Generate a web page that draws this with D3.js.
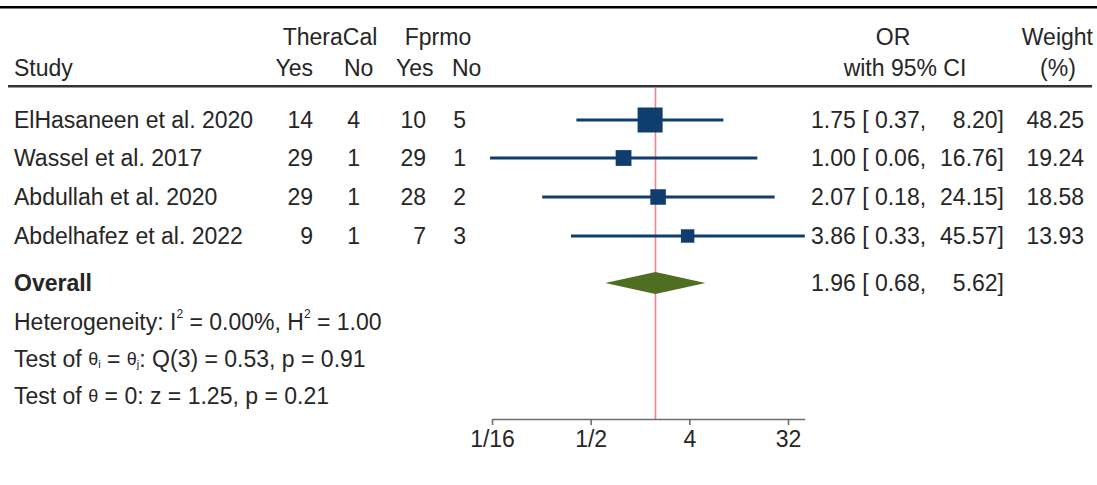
<!DOCTYPE html>
<html>
<head>
<meta charset="utf-8">
<script src="https://cdn.jsdelivr.net/npm/d3@7"></script>
<style>
  html, body { margin: 0; padding: 0; background: #fff; }
  svg text { font-family: "Liberation Sans", Arial, sans-serif; fill: #262626; white-space: pre; }
</style>
</head>
<body>
<svg id="chart" width="1097" height="485"></svg>
<script>
// Study-level data
const studies   = ["ElHasaneen et al. 2020", "Wassel et al. 2017", "Abdullah et al. 2020", "Abdelhafez et al. 2022"];
const theraYes  = [14, 29, 29, 9];
const theraNo   = [4, 1, 1, 1];
const fprmoYes  = [10, 29, 28, 7];
const fprmoNo   = [5, 1, 2, 3];
const oddsRatio = [1.75, 1.00, 2.07, 3.86];
const ciLow     = [0.37, 0.06, 0.18, 0.33];
const ciHigh    = [8.20, 16.76, 24.15, 45.57];
const weights   = [48.25, 19.24, 18.58, 13.93];

// Pooled estimate
const overallOR = 1.96, overallLow = 0.68, overallHigh = 5.62;

// Axis ticks
const tickValues = [1/16, 1/2, 4, 32];
const tickLabels = ["1/16", "1/2", "4", "32"];

const svg = d3.select("#chart");
const FS = 23;
const ink = "#262626";
const navy = "#0f3d6e";

const rowY = [120, 158, 197, 236];
const overallY = 283;

// log2 scale for odds ratios
const x = d3.scaleLog().base(2).domain([1/16, 32]).range([492, 788]);
const maxHi = d3.max(ciHigh);
const xAxisScale = x.copy().domain([1/16, maxHi]).range([x(1/16), x(maxHi)]);
const side = d3.scaleSqrt().domain([0, d3.max(weights)]).range([0, 25]);

function txt(xp, yp, s, anchor = "start", weight = "normal") {
  return svg.append("text").attr("x", xp).attr("y", yp)
    .attr("text-anchor", anchor).attr("font-size", FS)
    .attr("font-weight", weight).attr("dominant-baseline", "central").text(s);
}

// top rule and header rule
svg.append("rect").attr("x", 0).attr("y", 6).attr("width", 1097).attr("height", 2.5).attr("fill", "#000");
svg.append("rect").attr("x", 8).attr("y", 85).attr("width", 1084).attr("height", 2.5).attr("fill", "#333");

// headers
txt(330, 37, "TheraCal", "middle");
txt(438, 37, "Fprmo", "middle");
txt(14, 68, "Study");
txt(313, 68, "Yes", "end");
txt(344, 68, "No");
txt(396, 68, "Yes");
txt(452, 68, "No");
txt(893, 37, "OR", "middle");
txt(905, 68, "with 95% CI", "middle");
txt(1093, 37, "Weight", "end");
txt(1058, 68, "(%)", "middle");

// reference line at pooled estimate
svg.append("line")
  .attr("x1", x(overallOR)).attr("x2", x(overallOR))
  .attr("y1", 88).attr("y2", 419)
  .attr("stroke", "#ee8290").attr("stroke-width", 1.6);

const fmt = d3.format(".2f");

function ciText(y, est, lo, hi) {
  txt(811, y, `${fmt(est)} [ ${fmt(lo)},`);
  txt(1004, y, `${fmt(hi)}]`, "end");
}

studies.forEach((name, i) => {
  const y = rowY[i];
  txt(14, y, name);
  txt(313, y, String(theraYes[i]), "end");
  txt(360, y, String(theraNo[i]), "end");
  txt(426, y, String(fprmoYes[i]), "end");
  txt(466, y, String(fprmoNo[i]), "end");

  svg.append("line")
    .attr("x1", x(ciLow[i])).attr("x2", x(ciHigh[i]))
    .attr("y1", y).attr("y2", y)
    .attr("stroke", navy).attr("stroke-width", 3);
  const s = side(weights[i]);
  svg.append("rect")
    .attr("x", x(oddsRatio[i]) - s / 2).attr("y", y - s / 2)
    .attr("width", s).attr("height", s).attr("fill", navy);

  ciText(y, oddsRatio[i], ciLow[i], ciHigh[i]);
  txt(1084, y, fmt(weights[i]), "end");
});

// overall row
txt(14, overallY, "Overall", "start", "bold");
const dh = 11;
svg.append("path")
  .attr("d", `M${x(overallLow)},${overallY} L${x(overallOR)},${overallY - dh} L${x(overallHigh)},${overallY} L${x(overallOR)},${overallY + dh} Z`)
  .attr("fill", "#4e6e22");
ciText(overallY, overallOR, overallLow, overallHigh);

// heterogeneity and tests
const het = txt(14, 322, "Heterogeneity: I");
het.append("tspan").attr("font-size", 12).attr("dy", -8).text("2");
het.append("tspan").attr("dy", 8).text(" = 0.00%, H");
het.append("tspan").attr("font-size", 12).attr("dy", -8).text("2");
het.append("tspan").attr("dy", 8).text(" = 1.00");

const t1 = txt(14, 359, "Test of ");
t1.append("tspan").attr("font-size", 18).text("θ");
t1.append("tspan").attr("font-size", 11).attr("dy", 5).text("i");
t1.append("tspan").attr("dy", -5).text(" = ");
t1.append("tspan").attr("font-size", 18).text("θ");
t1.append("tspan").attr("font-size", 11).attr("dy", 5).text("j");
t1.append("tspan").attr("dy", -5).text(": Q(3) = 0.53, p = 0.91");

const t2 = txt(14, 396, "Test of ");
t2.append("tspan").attr("font-size", 18).text("θ");
t2.append("tspan").text(" = 0: z = 1.25, p = 0.21");

// x axis
const axis = d3.axisBottom(xAxisScale)
  .tickValues(tickValues)
  .tickFormat((d, i) => tickLabels[i])
  .tickSize(6).tickSizeOuter(0);
const g = svg.append("g").attr("transform", "translate(0,419)").call(axis);
g.select(".domain").attr("stroke", "#6e6e6e").attr("stroke-width", 1.6);
g.selectAll(".tick line").attr("stroke", "#6e6e6e").attr("stroke-width", 1.6);
g.selectAll(".tick text")
  .attr("font-size", FS).attr("font-family", "Liberation Sans, Arial, sans-serif")
  .attr("fill", ink).attr("dy", "0.72em").attr("y", 11);
</script>
</body>
</html>
